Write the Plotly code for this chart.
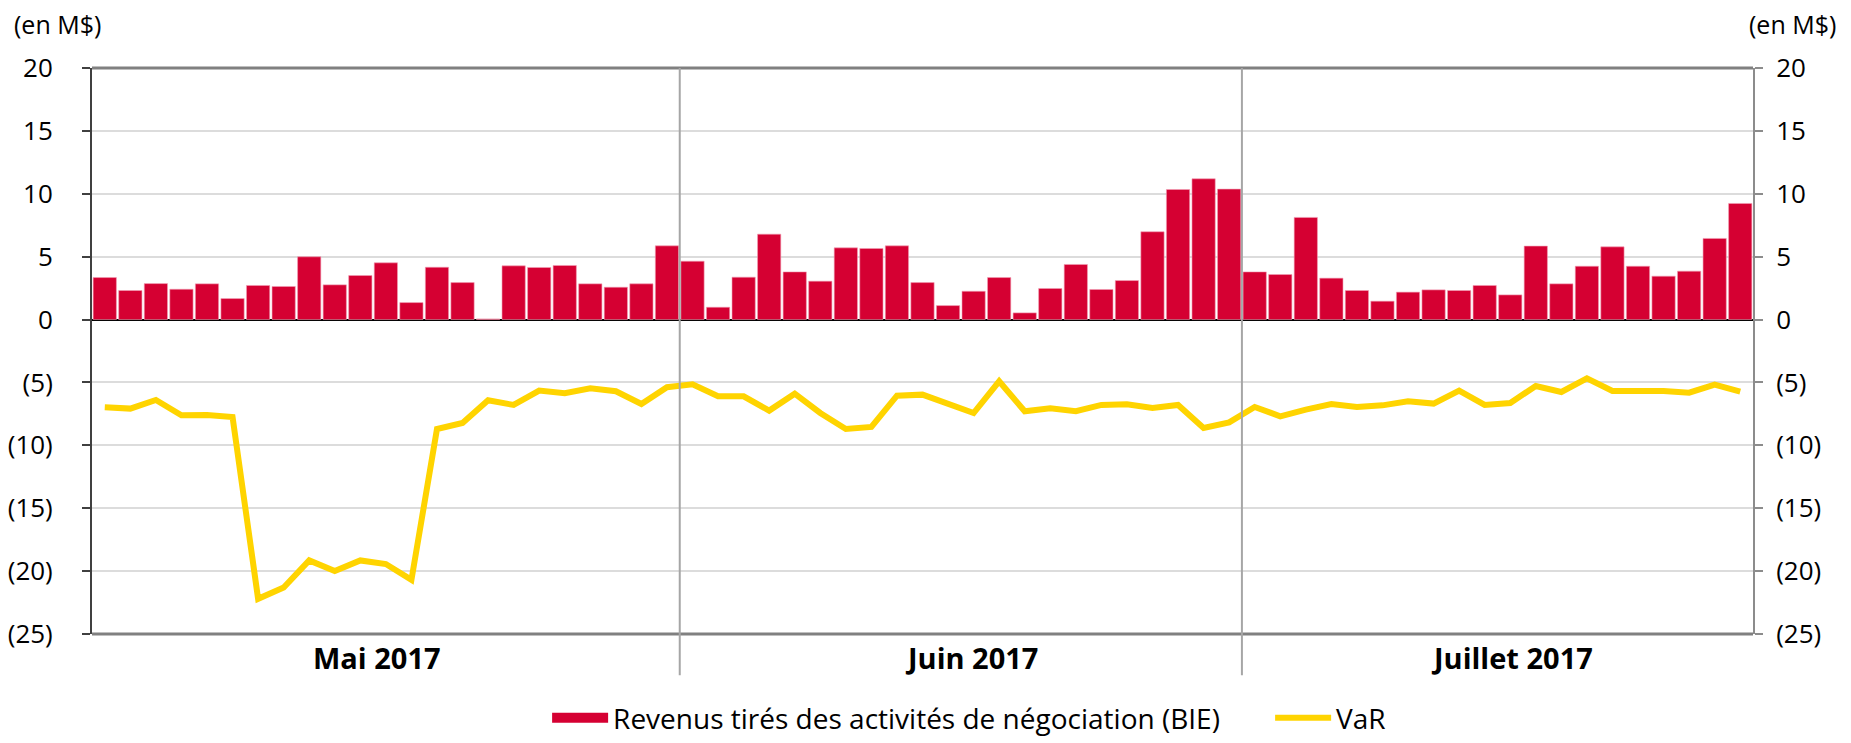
import plotly.graph_objects as go

# Trading days (categories)
may_days = [1, 2, 3, 4, 5, 8, 9, 10, 11, 12, 15, 16, 17, 18, 19, 22, 23, 24, 25, 26, 29, 30, 31]
jun_days = [1, 2, 5, 6, 7, 8, 9, 12, 13, 14, 15, 16, 19, 20, 21, 22, 23, 26, 27, 28, 29, 30]
jul_days = [4, 5, 6, 7, 10, 11, 12, 13, 14, 17, 18, 19, 20, 21, 24, 25, 26, 27, 28, 31]

categories = ([f"2017-05-{d:02d}" for d in may_days]
              + [f"2017-06-{d:02d}" for d in jun_days]
              + [f"2017-07-{d:02d}" for d in jul_days])

# Trading revenues (BIE), M$
revenue_may = [3.34, 2.31, 2.86, 2.41, 2.84, 1.67, 2.71, 2.63, 4.99, 2.76, 3.50, 4.51,
               1.35, 4.16, 2.94, 0.05, 4.27, 4.14, 4.30, 2.84, 2.57, 2.84, 5.86]
revenue_jun = [4.64, 0.98, 3.37, 6.79, 3.79, 3.05, 5.70, 5.65, 5.86, 2.94, 1.11, 2.25,
               3.34, 0.53, 2.47, 4.38, 2.39, 3.10, 6.98, 10.34, 11.19, 10.37]
revenue_jul = [3.79, 3.58, 8.12, 3.29, 2.31, 1.46, 2.18, 2.36, 2.31, 2.71, 1.96, 5.84,
               2.84, 4.24, 5.78, 4.24, 3.45, 3.85, 6.45, 9.23]

# VaR, M$
var_may = [-6.98, -7.08, -6.39, -7.61, -7.59, -7.75, -22.2, -21.3, -19.15, -20.0, -19.15,
           -19.44, -20.7, -8.7, -8.22, -6.42, -6.79, -5.65, -5.86, -5.46, -5.70, -6.71, -5.38]
var_jun = [-5.15, -6.10, -6.10, -7.24, -5.89, -7.43, -8.70, -8.54, -6.05, -5.97, -6.76,
           -7.43, -4.91, -7.29, -7.06, -7.29, -6.79, -6.74, -7.03, -6.79, -8.62, -8.17]
var_jul = [-6.95, -7.69, -7.16, -6.71, -6.95, -6.82, -6.50, -6.68, -5.65, -6.79, -6.63,
           -5.28, -5.76, -4.67, -5.68, -5.68, -5.68, -5.81, -5.17, -5.73]

revenue = revenue_may + revenue_jun + revenue_jul
var = var_may + var_jun + var_jul

month_labels = ["Mai 2017", "Juin 2017", "Juillet 2017"]
month_sizes = [len(may_days), len(jun_days), len(jul_days)]

tick_vals = [20, 15, 10, 5, 0, -5, -10, -15, -20, -25]
tick_text = ["20", "15", "10", "5", "0", "(5)", "(10)", "(15)", "(20)", "(25)"]

FONT = "Open Sans"
FS = 26
RED = "#D50032"
GOLD = "#FFD400"
BAR_NAME = "Revenus tirés des activités de négociation (BIE)"
LABEL_SHIFT = [-0.35, 0.4, 0.55]   # small horizontal nudges of month labels

fig = go.Figure()
fig.add_trace(go.Bar(
    x=categories, y=revenue, name=BAR_NAME, showlegend=False, legendgroup="bie",
    marker=dict(color=RED, line=dict(color="#F2A0B5", width=0.6)),
    yaxis="y",
))
# legend proxy for the bars (wide red rectangle swatch, as in the original)
fig.add_trace(go.Scatter(
    x=[None], y=[None], name=BAR_NAME, mode="lines", legendgroup="bie",
    line=dict(color=RED, width=13), yaxis="y", hoverinfo="skip",
))
fig.add_trace(go.Scatter(
    x=categories, y=var, name="VaR", mode="lines",
    line=dict(color=GOLD, width=6),
    yaxis="y2",
))

yax = dict(
    range=[-25, 20], tickvals=tick_vals, ticktext=tick_text,
    showgrid=True, gridcolor="#DCDCDC", gridwidth=1.5,
    zeroline=True, zerolinecolor="#000000", zerolinewidth=2,
    tickfont=dict(family=FONT, size=FS, color="#000000"),
    ticks="outside", ticklen=8, tickwidth=1.5,
    fixedrange=True, automargin=False,
)
fig.update_layout(
    width=1843, height=735,
    margin=dict(l=84, r=98, t=60, b=109, autoexpand=False),
    plot_bgcolor="white", paper_bgcolor="white",
    bargap=0.09,
    font=dict(family=FONT, size=FS, color="#000000"),
    xaxis=dict(type="category", range=[-0.5, len(categories) - 0.5],
               showticklabels=False, showgrid=False, zeroline=False,
               showline=False, ticks=""),
    yaxis=dict(**yax, showline=True, linecolor="#404040", linewidth=2,
               tickcolor="#404040", ticklabelstandoff=24),
    yaxis2=dict(**yax, overlaying="y", side="right", showline=True,
                linecolor="#8C8C8C", linewidth=2, tickcolor="#8C8C8C",
                ticklabelstandoff=8),
    legend=dict(orientation="h", x=0.274, xanchor="left",
                y=-0.02, yref="container", yanchor="bottom",
                font=dict(family=FONT, size=28), itemwidth=56,
                entrywidth=652, entrywidthmode="pixels",
                traceorder="normal"),
    showlegend=True,
)

# Frame top and bottom
fig.add_shape(type="line", xref="paper", yref="paper", x0=0, x1=1, y0=1, y1=1,
              line=dict(color="#808080", width=3))
fig.add_shape(type="line", xref="paper", yref="paper", x0=0, x1=1, y0=0, y1=0,
              line=dict(color="#808080", width=3))

# Month dividers and labels
start = 0
for i, (lab, n) in enumerate(zip(month_labels, month_sizes)):
    center = start + (n - 1) / 2 + LABEL_SHIFT[i]
    fig.add_annotation(x=center, xref="x", y=-0.041, yref="paper", text=f"<b>{lab}</b>",
                       showarrow=False, font=dict(family=FONT, size=29), yanchor="middle")
    if i < len(month_sizes) - 1:
        xdiv = start + n - 0.5
        fig.add_shape(type="line", xref="x", yref="paper", x0=xdiv, x1=xdiv,
                      y0=-0.073, y1=1, line=dict(color="#A6A6A6", width=2), layer="above")
    start += n

fig.add_annotation(x=-0.048, xref="paper", y=1.078, yref="paper", text="(en M$)",
                   showarrow=False, xanchor="left", yanchor="middle",
                   font=dict(family=FONT, size=25))
fig.add_annotation(x=1.051, xref="paper", y=1.078, yref="paper", text="(en M$)",
                   showarrow=False, xanchor="right", yanchor="middle",
                   font=dict(family=FONT, size=25))

fig.write_html("out.html")
